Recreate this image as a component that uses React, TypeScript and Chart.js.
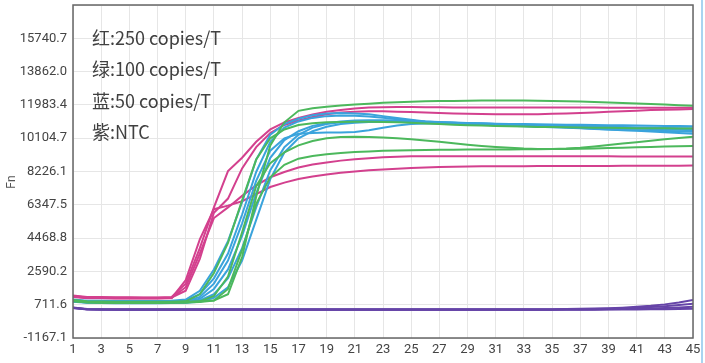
import React, { useEffect, useRef } from 'react';
import { Chart, registerables } from 'chart.js';

Chart.register(...registerables);

const cycles = [1, 2, 3, 4, 5, 6, 7, 8, 9, 10, 11, 12, 13, 14, 15, 16, 17, 18, 19, 20, 21, 22, 23, 24, 25, 26, 27, 28, 29, 30, 31, 32, 33, 34, 35, 36, 37, 38, 39, 40, 41, 42, 43, 44, 45];

const yTickLabels = ['-1167.1', '711.6', '2590.2', '4468.8', '6347.5', '8226.1', '10104.7', '11983.4', '13862.0', '15740.7', ''];

const legendLines = ['红:250 copies/T', '绿:100 copies/T', '蓝:50 copies/T', '紫:NTC'];

// 红: 250 copies/T
const red1 = [1230, 1150, 1140, 1130, 1130, 1120, 1120, 1150, 1900, 3900, 6200, 8250, 9000, 9900, 10600, 11000, 11250, 11450, 11600, 11700, 11780, 11830, 11850, 11860, 11860, 11850, 11850, 11840, 11840, 11830, 11830, 11830, 11830, 11830, 11830, 11830, 11830, 11830, 11820, 11820, 11820, 11820, 11820, 11820, 11820];
const red2 = [1200, 1120, 1110, 1100, 1100, 1100, 1100, 1120, 1500, 3300, 5900, 6700, 8400, 9600, 10400, 10850, 11100, 11300, 11450, 11550, 11600, 11620, 11620, 11600, 11580, 11550, 11530, 11500, 11480, 11470, 11460, 11450, 11450, 11460, 11480, 11500, 11530, 11560, 11600, 11630, 11660, 11690, 11710, 11730, 11750];
const red3 = [1180, 1100, 1090, 1080, 1080, 1080, 1080, 1100, 1700, 3600, 5600, 6200, 6850, 7450, 7900, 8200, 8450, 8620, 8740, 8840, 8920, 8980, 9030, 9060, 9080, 9090, 9090, 9090, 9080, 9080, 9080, 9080, 9080, 9080, 9080, 9080, 9080, 9080, 9080, 9070, 9070, 9070, 9070, 9070, 9070];
const red4 = [1150, 1080, 1070, 1060, 1060, 1060, 1060, 1080, 2100, 4400, 6100, 6300, 6550, 6950, 7350, 7600, 7800, 7950, 8060, 8150, 8230, 8290, 8340, 8380, 8420, 8450, 8480, 8500, 8510, 8520, 8520, 8525, 8525, 8530, 8530, 8535, 8535, 8540, 8540, 8545, 8545, 8550, 8550, 8555, 8560];

// 绿: 100 copies/T
const green1 = [980, 900, 890, 880, 880, 880, 880, 880, 880, 900, 950, 1300, 3400, 6800, 9700, 11000, 11650, 11800, 11880, 11950, 12000, 12050, 12100, 12130, 12160, 12190, 12200, 12210, 12220, 12230, 12230, 12230, 12230, 12220, 12210, 12190, 12170, 12150, 12120, 12090, 12060, 12030, 12000, 11970, 11940];
const green2 = [950, 870, 860, 850, 850, 850, 850, 860, 900, 1300, 2500, 4200, 6600, 8900, 10100, 10600, 10850, 10950, 11000, 11020, 11030, 11030, 11020, 11000, 10970, 10940, 10900, 10870, 10840, 10820, 10800, 10780, 10760, 10740, 10730, 10720, 10710, 10700, 10690, 10680, 10670, 10665, 10660, 10655, 10650];
const green3 = [900, 830, 820, 810, 810, 810, 810, 820, 830, 900, 1200, 2300, 4800, 7400, 8700, 9300, 9700, 9950, 10100, 10170, 10180, 10170, 10140, 10100, 10050, 9980, 9900, 9820, 9740, 9670, 9610, 9560, 9520, 9500, 9500, 9520, 9570, 9640, 9720, 9800, 9880, 9960, 10040, 10110, 10180];
const green4 = [920, 850, 840, 830, 830, 830, 830, 840, 840, 860, 950, 1600, 3800, 6400, 7900, 8600, 8950, 9100, 9200, 9270, 9320, 9360, 9390, 9410, 9430, 9440, 9450, 9460, 9465, 9470, 9470, 9470, 9475, 9480, 9490, 9500, 9510, 9530, 9550, 9570, 9590, 9610, 9630, 9645, 9660];

// 蓝: 50 copies/T
const blue1 = [1000, 940, 930, 920, 920, 920, 920, 930, 1000, 1500, 2700, 4300, 6500, 8900, 10300, 10900, 11200, 11400, 11500, 11520, 11500, 11450, 11350, 11250, 11150, 11050, 11000, 10970, 10940, 10920, 10900, 10880, 10860, 10840, 10820, 10800, 10780, 10760, 10740, 10720, 10700, 10690, 10680, 10670, 10660];
const blue2 = [960, 900, 890, 880, 880, 880, 880, 890, 950, 1300, 2200, 3600, 5800, 8200, 9900, 10700, 11050, 11250, 11350, 11380, 11370, 11330, 11260, 11180, 11100, 11030, 10980, 10940, 10900, 10870, 10840, 10810, 10780, 10750, 10720, 10690, 10660, 10630, 10600, 10570, 10550, 10530, 10510, 10490, 10470];
const blue3 = [940, 880, 870, 860, 860, 860, 860, 870, 900, 1150, 1900, 3200, 5300, 7700, 9400, 10100, 10350, 10400, 10420, 10430, 10450, 10550, 10700, 10820, 10900, 10930, 10950, 10950, 10940, 10930, 10920, 10910, 10900, 10890, 10880, 10870, 10860, 10850, 10840, 10830, 10820, 10810, 10800, 10790, 10780];
const blue4 = [920, 860, 850, 840, 840, 840, 840, 850, 870, 1050, 1600, 2700, 4600, 7000, 9000, 10000, 10500, 10800, 10950, 11050, 11100, 11120, 11120, 11100, 11080, 11050, 11020, 10990, 10960, 10930, 10900, 10870, 10840, 10800, 10760, 10720, 10680, 10640, 10600, 10560, 10520, 10480, 10440, 10400, 10360];
const blue5 = [900, 840, 830, 820, 820, 820, 820, 830, 840, 950, 1300, 2200, 3900, 6200, 8300, 9600, 10300, 10700, 10900, 11000, 11050, 11060, 11050, 11030, 11000, 10970, 10940, 10910, 10880, 10860, 10840, 10820, 10800, 10780, 10760, 10740, 10720, 10700, 10680, 10660, 10640, 10620, 10600, 10580, 10560];
const blue6 = [880, 820, 810, 800, 800, 800, 800, 810, 820, 880, 1100, 1700, 3200, 5500, 7800, 9300, 10100, 10500, 10750, 10900, 10980, 11020, 11040, 11040, 11030, 11010, 10990, 10970, 10950, 10930, 10910, 10890, 10870, 10850, 10830, 10810, 10790, 10770, 10750, 10730, 10710, 10690, 10670, 10650, 10630];

// 紫: NTC
const purple1 = [560, 470, 455, 450, 450, 450, 450, 450, 450, 450, 450, 450, 450, 450, 450, 450, 450, 450, 450, 450, 450, 450, 450, 450, 450, 450, 450, 450, 450, 450, 450, 450, 452, 455, 460, 468, 478, 492, 515, 545, 590, 650, 730, 840, 980];
const purple2 = [540, 460, 445, 440, 440, 440, 440, 440, 440, 440, 440, 440, 440, 440, 440, 440, 440, 440, 440, 440, 440, 440, 440, 440, 440, 440, 440, 440, 440, 440, 440, 440, 440, 442, 445, 450, 458, 468, 485, 505, 535, 575, 625, 690, 760];
const purple3 = [530, 450, 435, 430, 430, 430, 430, 430, 430, 430, 430, 430, 430, 430, 430, 430, 430, 430, 430, 430, 430, 430, 430, 430, 430, 430, 430, 430, 430, 430, 430, 430, 430, 430, 432, 435, 440, 446, 455, 466, 480, 500, 525, 560, 600];
const purple4 = [520, 440, 428, 425, 425, 425, 425, 425, 425, 425, 425, 425, 425, 425, 425, 425, 425, 425, 425, 425, 425, 425, 425, 425, 425, 425, 425, 425, 425, 425, 425, 425, 425, 425, 425, 426, 428, 430, 434, 438, 444, 450, 458, 468, 480];

const RED = '#d3408e';
const GREEN = '#4cb85c';
const BLUE = '#3aa3dc';
const PURPLE = '#6644a8';

const groups: [number[][], string][] = [
  [[purple1, purple2, purple3, purple4], PURPLE],
  [[green1, green2, green3, green4], GREEN],
  [[blue1, blue2, blue3, blue4, blue5, blue6], BLUE],
  [[red1, red2, red3, red4], RED],
];

const overlayPlugin = {
  id: 'overlay',
  afterDraw(chart: any) {
    const { ctx, chartArea } = chart;
    const { left, top, right, bottom } = chartArea;
    ctx.save();
    ctx.strokeStyle = '#666666';
    ctx.lineWidth = 1.5;
    ctx.strokeRect(left, top, right - left, bottom - top);
    ctx.fillStyle = '#404040';
    ctx.font = '18px "Noto Sans CJK SC", "Noto Sans", sans-serif';
    ctx.textBaseline = 'middle';
    ctx.textAlign = 'left';
    legendLines.forEach((t, i) => ctx.fillText(t, left + 19, top + 33 + i * 31.5));
    ctx.translate(12, 182);
    ctx.rotate(-Math.PI / 2);
    ctx.font = '12px Roboto, sans-serif';
    ctx.textAlign = 'center';
    ctx.fillStyle = '#555555';
    ctx.fillText('Fn', 0, 0);
    ctx.restore();
  },
};

export default function App() {
  const ref = useRef<HTMLCanvasElement | null>(null);
  useEffect(() => {
    if (!ref.current) return;
    const datasets: any[] = [];
    groups.forEach(([series, color]) => {
      series.forEach((arr) => {
        datasets.push({
          data: cycles.map((c, i) => ({ x: c, y: arr[i] })),
          borderColor: color,
          backgroundColor: color,
          borderWidth: 2,
          pointRadius: 0,
          tension: 0,
          fill: false,
        });
      });
    });
    const tickFont = { family: 'Roboto, sans-serif', size: 13 };
    const chart = new Chart(ref.current, {
      type: 'line',
      data: { datasets },
      plugins: [overlayPlugin],
      options: {
        animation: false,
        responsive: true,
        maintainAspectRatio: false,
        layout: { padding: { left: 0, top: 5, right: 12, bottom: 0 } },
        plugins: { legend: { display: false }, tooltip: { enabled: false } },
        scales: {
          x: {
            type: 'linear',
            min: 1,
            max: 45,
            ticks: { stepSize: 2, autoSkip: false, maxRotation: 0, padding: 4, color: '#444444', font: tickFont },
            grid: { color: '#e6e6e6', drawTicks: false },
            border: { display: false },
            afterFit: (s: any) => {
              s.height = 25;
              s.paddingLeft = 0;
              s.paddingRight = 0;
              s.paddingTop = 0;
              s.paddingBottom = 0;
            },
          },
          y: {
            type: 'linear',
            min: -1167.1,
            max: 17619.5,
            ticks: {
              count: 11,
              padding: 6,
              color: '#444444',
              font: tickFont,
              callback: (_v: any, i: number) => yTickLabels[i],
            },
            grid: { color: '#e6e6e6', drawTicks: false },
            border: { display: false },
            afterFit: (s: any) => {
              s.width = 73;
              s.paddingLeft = 0;
              s.paddingRight = 0;
              s.paddingTop = 0;
              s.paddingBottom = 0;
            },
          },
        },
      },
    });
    return () => chart.destroy();
  }, []);
  return (
    <div style={{ position: 'fixed', left: 0, top: 0, width: 705, height: 363, background: '#ffffff' }}>
      <canvas ref={ref} />
      <div style={{ position: 'absolute', left: 701, top: 0, width: 2, height: 363, background: '#a9d4f0' }} />
    </div>
  );
}
